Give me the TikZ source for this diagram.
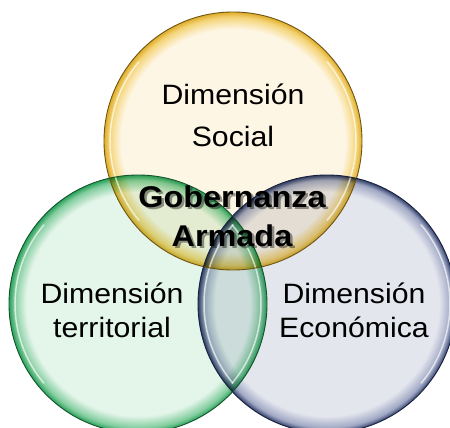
\documentclass[tikz,border=0pt]{standalone}
\usepackage{fontspec}
\setmainfont{Liberation Sans}[FakeStretch=1.08]
\usetikzlibrary{positioning}

% colores de los circulos
\definecolor{socialfill}{RGB}{254,246,228}
\definecolor{socialglow}{RGB}{244,212,120}
\definecolor{socialedge}{RGB}{222,172,40}
\definecolor{socialline}{RGB}{110,85,20}
\definecolor{terrfill}{RGB}{228,245,234}
\definecolor{terrglow}{RGB}{130,205,158}
\definecolor{terredge}{RGB}{40,160,90}
\definecolor{terrline}{RGB}{20,85,45}
\definecolor{ecofill}{RGB}{228,230,238}
\definecolor{ecoglow}{RGB}{160,168,196}
\definecolor{ecoedge}{RGB}{50,64,108}
\definecolor{ecoline}{RGB}{25,33,62}

\pgfdeclareradialshading{socialshade}{\pgfpointorigin}{color(0bp)=(socialfill); color(21.7bp)=(socialfill); color(24bp)=(socialglow); color(25bp)=(socialedge); color(50bp)=(socialedge)}
\pgfdeclareradialshading{terrshade}{\pgfpointorigin}{color(0bp)=(terrfill); color(21.7bp)=(terrfill); color(24bp)=(terrglow); color(25bp)=(terredge); color(50bp)=(terredge)}
\pgfdeclareradialshading{ecoshade}{\pgfpointorigin}{color(0bp)=(ecofill); color(21.7bp)=(ecofill); color(24bp)=(ecoglow); color(25bp)=(ecoedge); color(50bp)=(ecoedge)}

\tikzset{
  dim label/.style={
    align=center,
    inner sep=0pt,
    font=\fontsize{28}{34}\selectfont
  },
  title label/.style={
    align=center,
    inner sep=0pt,
    font=\bfseries\fontsize{30}{39}\selectfont
  },
  title shadow/.style={
    title label,
    text=black,
    text opacity=0.4
  },
  highlight/.style={
    draw=white,
    line width=1.5pt,
    draw opacity=0.65,
    line cap=round
  }
}

\begin{document}
\begin{tikzpicture}[x=1pt, y=-1pt]
    \useasboundingbox (0,0) rectangle (450,428);
    \clip (0,0) rectangle (450,428);

    % centros
    \coordinate (social) at (233,141);
    \coordinate (terr) at (138,304);
    \coordinate (eco) at (327,304);

    % rellenos (multiplicados)
    \begin{scope}[blend mode=multiply]
      \shade[shading=terrshade] (terr) circle[radius=129];
      \shade[shading=ecoshade] (eco) circle[radius=129];
      \shade[shading=socialshade] (social) circle[radius=129];
    \end{scope}

    % brillos
    \foreach \c in {social,terr,eco} {
      \draw[highlight] (\c) ++(-140:123) arc[start angle=-140, end angle=-220, radius=123];
      \draw[highlight] (\c) ++(-40:123) arc[start angle=-40, end angle=40, radius=123];
    }

    % bordes
    \draw[socialline, line width=0.9pt] (social) circle[radius=129];
    \draw[terrline, line width=0.9pt] (terr) circle[radius=129];
    \draw[ecoline, line width=0.9pt] (eco) circle[radius=129];

    % textos
    \node[dim label, font=\fontsize{28}{42}\selectfont] (sociallabel) at (233,115) {Dimensión\\Social};
    \node[dim label] (terrlabel) at (112,310) {Dimensión\\territorial};
    \node[dim label] (ecolabel) at (354,310) {Dimensión\\Económica};

    % titulo con sombra
    \node[title shadow] (titleshadow) at (234.5,218.5) {Gobernanza\\Armada};
    \node[title label] (title) at (232,216) {Gobernanza\\Armada};

\end{tikzpicture}
\end{document}
